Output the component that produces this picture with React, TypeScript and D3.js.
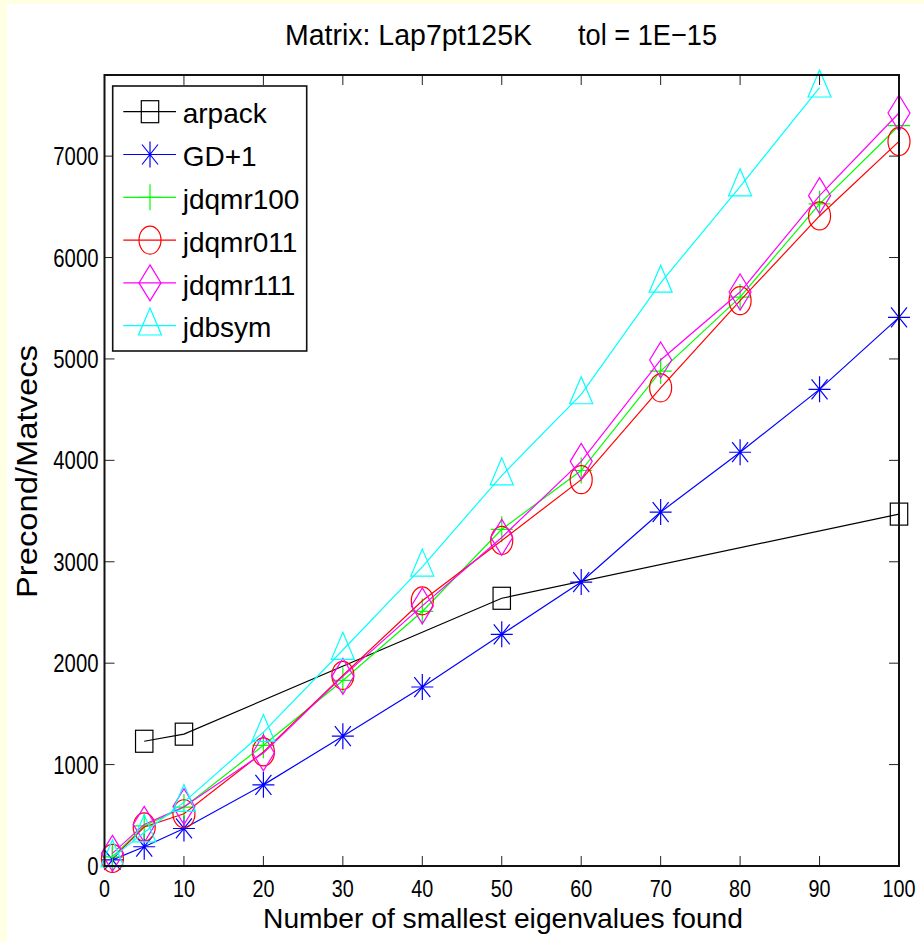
import React from "react";
import * as d3 from "d3";

// Number of eigenvalues requested
const counts = [1, 5, 10, 20, 30, 40, 50, 60, 70, 80, 90, 100];

// arpack was only run for a subset of counts
const arpackCounts = [5, 10, 50, 100];
const arpack = [1230, 1300, 2640, 3470];

const gd1 = [60, 190, 370, 800, 1280, 1765, 2285, 2800, 3490, 4080, 4700, 5410];
const jdqmr100 = [90, 395, 580, 1190, 1830, 2510, 3320, 3900, 4880, 5610, 6530, 7300];
const jdqmr011 = [75, 385, 515, 1125, 1880, 2615, 3210, 3810, 4715, 5575, 6410, 7145];
const jdqmr111 = [125, 410, 585, 1115, 1870, 2565, 3240, 3990, 4990, 5660, 6610, 7425];
// jdbsym has no run at 100
const jdbsymCounts = [1, 5, 10, 20, 30, 40, 50, 60, 70, 80, 90];
const jdbsym = [85, 330, 630, 1320, 2130, 2950, 3850, 4650, 5750, 6700, 7675];

const xTicks = [0, 10, 20, 30, 40, 50, 60, 70, 80, 90, 100];
const yTicks = [0, 1000, 2000, 3000, 4000, 5000, 6000, 7000];

type MarkerKind = "square" | "star" | "plus" | "circle" | "diamond" | "triangle";

interface Series {
  name: string;
  color: string;
  marker: MarkerKind;
  xs: number[];
  ys: number[];
}

const series: Series[] = [
  { name: "arpack", color: "#000000", marker: "square", xs: arpackCounts, ys: arpack },
  { name: "GD+1", color: "#0000ff", marker: "star", xs: counts, ys: gd1 },
  { name: "jdqmr100", color: "#00ff00", marker: "plus", xs: counts, ys: jdqmr100 },
  { name: "jdqmr011", color: "#ff0000", marker: "circle", xs: counts, ys: jdqmr011 },
  { name: "jdqmr111", color: "#ff00ff", marker: "diamond", xs: counts, ys: jdqmr111 },
  { name: "jdbsym", color: "#00ffff", marker: "triangle", xs: jdbsymCounts, ys: jdbsym },
];

const W = 924;
const H = 942;
const plot = { left: 104.5, right: 899, top: 75, bottom: 866 };

const x = d3.scaleLinear().domain([0, 100]).range([plot.left, plot.right]);
const y = d3.scaleLinear().domain([0, 7800]).range([plot.bottom, plot.top]);

const FONT = "Arial, 'Liberation Sans', Helvetica, sans-serif";

function Marker({ kind, cx, cy, color }: { kind: MarkerKind; cx: number; cy: number; color: string }) {
  const common = { fill: "none", stroke: color, strokeWidth: 1.2 };
  const t = `translate(${cx},${cy})`;
  switch (kind) {
    case "square":
      return <rect transform={t} x={-8.7} y={-11} width={17.4} height={22} {...common} />;
    case "star":
      return <path transform={t} d="M0,-13V13M-11,0H11M-8,-10L8,10M-8,10L8,-10" {...common} />;
    case "plus":
      return <path transform={t} d="M0,-13V13M-11,0H11" {...common} />;
    case "circle":
      return <ellipse transform={t} rx={11} ry={14} {...common} />;
    case "diamond":
      return <path transform={t} d="M0,-18L11,0L0,18L-11,0Z" {...common} />;
    case "triangle":
      return <path transform={t} d="M0,-17.7L11.5,9.3L-11.5,9.3Z" {...common} />;
  }
}

export default function App() {
  const line = d3
    .line<[number, number]>()
    .x((d) => x(d[0]))
    .y((d) => y(d[1]));

  const legend = { x0: 112.7, y0: 86, x1: 306.7, y1: 351, first: 111.7, step: 42.8 };

  return (
    <svg
      width={W}
      height={H}
      viewBox={`0 0 ${W} ${H}`}
      style={{ position: "absolute", left: 0, top: 0, display: "block" }}
      fontFamily={FONT}
    >
      <rect x={0} y={0} width={W} height={H} fill="#ffffe3" />
      <rect x={7} y={4} width={W - 7} height={H - 4} fill="#ffffff" />

      {/* title */}
      <text x={285} y={45} fontSize={30} textLength={247} lengthAdjust="spacingAndGlyphs">
        Matrix: Lap7pt125K
      </text>
      <text x={578} y={45} fontSize={30} textLength={139} lengthAdjust="spacingAndGlyphs">
        tol = 1E−15
      </text>

      {/* ticks on all four sides, pointing inward */}
      <g stroke="#222" strokeWidth={1}>
        {xTicks.map((t) => (
          <g key={`xt${t}`}>
            <line x1={x(t)} x2={x(t)} y1={plot.bottom} y2={plot.bottom - 10} />
            <line x1={x(t)} x2={x(t)} y1={plot.top} y2={plot.top + 10} />
          </g>
        ))}
        {yTicks.map((t) => (
          <g key={`yt${t}`}>
            <line x1={plot.left} x2={plot.left + 10} y1={y(t)} y2={y(t)} />
            <line x1={plot.right} x2={plot.right - 10} y1={y(t)} y2={y(t)} />
          </g>
        ))}
      </g>

      {/* tick labels */}
      {xTicks.map((t) => {
        const s = String(t);
        return (
          <text
            key={`xl${t}`}
            x={x(t)}
            y={897}
            fontSize={23}
            textAnchor="middle"
            textLength={11 * s.length}
            lengthAdjust="spacingAndGlyphs"
          >
            {s}
          </text>
        );
      })}
      {yTicks.map((t) => {
        const s = String(t);
        return (
          <text
            key={`yl${t}`}
            x={98.5}
            y={y(t) + 9}
            fontSize={25}
            textAnchor="end"
            textLength={11.3 * s.length}
            lengthAdjust="spacingAndGlyphs"
          >
            {s}
          </text>
        );
      })}

      {/* axis titles */}
      <text x={263} y={927.5} fontSize={28.5} textLength={480} lengthAdjust="spacingAndGlyphs">
        Number of smallest eigenvalues found
      </text>
      <text
        transform={`translate(36.5,598) rotate(-90)`}
        x={0}
        y={0}
        fontSize={30}
        textLength={253}
        lengthAdjust="spacingAndGlyphs"
      >
        Precond/Matvecs
      </text>

      {/* series */}
      {series.map((s) => {
        const pts = s.xs.map((v, i) => [v, s.ys[i]] as [number, number]);
        return (
          <g key={s.name}>
            <path d={line(pts) ?? ""} fill="none" stroke={s.color} strokeWidth={1.2} />
            {pts.map((p, i) => (
              <Marker key={i} kind={s.marker} cx={x(p[0])} cy={y(p[1])} color={s.color} />
            ))}
          </g>
        );
      })}

      {/* axes box */}
      <rect
        x={plot.left}
        y={plot.top}
        width={plot.right - plot.left}
        height={plot.bottom - plot.top}
        fill="none"
        stroke="#111"
        strokeWidth={2}
      />

      {/* legend */}
      <rect
        x={legend.x0}
        y={legend.y0}
        width={legend.x1 - legend.x0}
        height={legend.y1 - legend.y0}
        fill="#ffffff"
        stroke="#111"
        strokeWidth={1.6}
      />
      {series.map((s, i) => {
        const cy = legend.first + i * legend.step;
        return (
          <g key={`lg${s.name}`}>
            <line x1={123.3} x2={176} y1={cy} y2={cy} stroke={s.color} strokeWidth={1.2} />
            <Marker kind={s.marker} cx={150} cy={cy} color={s.color} />
            <text x={182.7} y={cy + 11.6} fontSize={28}>
              {s.name}
            </text>
          </g>
        );
      })}
    </svg>
  );
}
